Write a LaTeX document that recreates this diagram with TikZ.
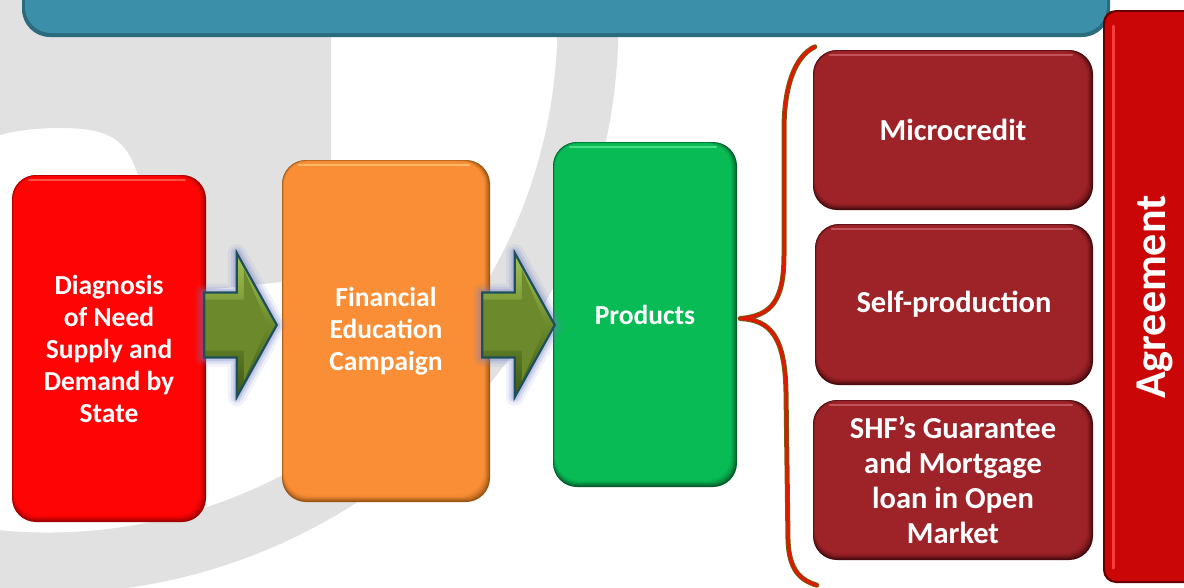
\documentclass[tikz,border=0pt]{standalone}
\usepackage{fontspec}
\setmainfont{Carlito}
\usetikzlibrary{calc}

% palette
\definecolor{bggrey}{HTML}{E1E1E1}
\definecolor{barmain}{HTML}{3B8FA8}
\definecolor{barrim}{HTML}{2A6B7D}
\definecolor{dgmain}{HTML}{FF0404}
\definecolor{dgrim}{HTML}{9E0000}
\definecolor{dghi}{HTML}{FF6A5A}
\definecolor{femain}{HTML}{F98E36}
\definecolor{ferim}{HTML}{9C5414}
\definecolor{fehi}{HTML}{FFC878}
\definecolor{prmain}{HTML}{08BB55}
\definecolor{prrim}{HTML}{005C28}
\definecolor{prhi}{HTML}{5EE89A}
\definecolor{mrmain}{HTML}{9D2328}
\definecolor{mrrim}{HTML}{480A0E}
\definecolor{mrhi}{HTML}{D0646C}
\definecolor{agmain}{HTML}{CB0606}
\definecolor{agrim}{HTML}{640000}
\definecolor{aghi}{HTML}{FF3C3C}
\definecolor{arrtop}{HTML}{A6C255}
\definecolor{arrmid}{HTML}{6C8A2C}
\definecolor{arrbot}{HTML}{3E5816}
\definecolor{arrline}{HTML}{1D4F5C}
\definecolor{arrglow}{HTML}{6F7FC8}
\definecolor{bracered}{HTML}{E01800}
\definecolor{braceedge}{HTML}{7A5A10}

% rounded box with a soft bevel and a named text node on top
\newcommand\bevelbox[8]{%
  \fill[#6rim, rounded corners=24pt] (#2,#3) rectangle (#4,#5);
  \foreach \p [count=\k] in {30,55,75,90,100}{%
    \fill[#6main!\p!#6rim, rounded corners=24pt]
      ({#2+0.4*\k},{#3+0.3*\k}) rectangle ({#4-1.2*\k},{#5-1.3*\k});}
  \draw[#6hi, line width=2.2pt, line cap=round, opacity=0.75]
    ({#2+17},{#3+5}) -- ({#4-21},{#3+5});
  \node[#8, minimum width={#4-#2}, minimum height={#5-#3}]
    (#1) at ({(#2+#4)/2},{(#3+#5)/2}) {#7};}

% block arrow outline from a start point to a tip, and its inner face
\newcommand\arrowshape[2]{($(#1)+(0,-32.5)$) -- ($(#2)+(-40,-32.5)$)
  -- ($(#2)+(-40,-72)$) -- (#2) -- ($(#2)+(-40,72)$)
  -- ($(#2)+(-40,32.5)$) -- ($(#1)+(0,32.5)$) -- cycle}
\newcommand\arrowface[2]{($(#1)+(1,-25.5)$) -- ($(#2)+(-33,-25.5)$)
  -- ($(#2)+(-33,-56)$) -- ($(#2)+(-9,0)$) -- ($(#2)+(-33,56)$)
  -- ($(#2)+(-33,25.5)$) -- ($(#1)+(1,25.5)$) -- cycle}

\newcommand\blockarrow[2]{%
  \draw[arrglow, line width=18pt, opacity=0.10, line join=round] \arrowshape{#1}{#2};
  \draw[arrglow, line width=12pt, opacity=0.16, line join=round] \arrowshape{#1}{#2};
  \draw[arrglow, line width=7pt, opacity=0.25, line join=round] \arrowshape{#1}{#2};
  \fill[top color=arrtop, bottom color=arrbot, middle color=arrmid] \arrowshape{#1}{#2};
  \fill[arrmid] \arrowface{#1}{#2};
  \draw[arrline, line width=2.2pt, line join=miter] \arrowshape{#1}{#2};}

\begin{document}
\begin{tikzpicture}[x=1pt, y=-1pt,
  lefttext/.style={text=white, font=\bfseries\fontsize{27.5}{32}\selectfont,
                   align=center, inner sep=0pt},
  righttext/.style={text=white, font=\bfseries\fontsize{30.5}{35}\selectfont,
                    align=center, inner sep=0pt},
  bracepath/.style={draw=braceedge, line width=5pt, line join=round, line cap=round,
                    postaction={draw=bracered, line width=3pt, line join=round, line cap=round}}]
\useasboundingbox (0,0) rectangle (1184,587);
\fill[white] (0,0) rectangle (1184,587);

% grey watermark shapes
\fill[bggrey] (0,0) -- (331,0) -- (331,230)
  .. controls (331,265) and (312,280) .. (282,282) -- (205,290)
  .. controls (170,290) and (150,200) .. (132,160)
  .. controls (120,135) and (100,128) .. (60,128)
  .. controls (30,128) and (10,132) .. (0,135) -- cycle;
\fill[bggrey] plot[domain=-10:125, samples=90] ({47.5+571*cos(\x)},{22.6+571*sin(\x)})
  -- plot[domain=125:-10, samples=90] ({47.5+510*cos(\x)},{22.6+510*sin(\x)}) -- cycle;

% title bar
\fill[barrim, rounded corners=28pt] (22,-40) rectangle (1110,37);
\fill[barmain, rounded corners=26pt] (25,-40) rectangle (1107,33);

% agreement bar
\fill[agrim, rounded corners=13pt] (1103,10) rectangle (1200,583);
\fill[agmain, rounded corners=12pt] (1105,12) rectangle (1200,581);
\draw[aghi, line width=3pt, line cap=round] (1113,26) -- (1113,568);
\node[rotate=90, text=white, font=\bfseries\fontsize{44}{50}\selectfont, inner sep=0pt]
  (agr) at (1155,297) {Agreement};

% process boxes
\bevelbox{diag}{12}{175}{206}{522}{dg}{Diagnosis\\of Need\\Supply and\\Demand by\\State}{lefttext}
\bevelbox{fin}{282}{160}{490}{502}{fe}{Financial\\Education\\Campaign}{lefttext}
\bevelbox{prod}{553}{142}{737}{487}{pr}{Products}{lefttext}

% product boxes
\bevelbox{mc}{813}{50}{1093}{210}{mr}{Microcredit}{righttext}
\bevelbox{sp}{815}{224}{1093}{385}{mr}{Self-production}{righttext}
\bevelbox{shf}{813}{400}{1093}{560}{mr}{SHF’s Guarantee\\and Mortgage\\loan in Open\\Market}{righttext}

% arrows between the process boxes
\coordinate (amid) at (0,325);
\coordinate (a1s) at ($(diag.east |- amid)+(-2,0)$);
\coordinate (a1t) at ($(fin.west |- amid)+(-5,0)$);
\coordinate (a2s) at ($(fin.east |- amid)+(-8,0)$);
\coordinate (a2t) at ($(prod.west |- amid)+(2,0)$);
\blockarrow{a1s}{a1t}
\blockarrow{a2s}{a2t}

% brace from the products box to the product list
\coordinate (btip) at ($(prod.east)+(3,4)$);
\coordinate (btop) at ($(mc.north west)+(2,-3)$);
\coordinate (bbot) at ($(shf.south west)+(4,25)$);
\path[bracepath] (btop) .. controls (795,56) and (784,86) .. (784,130)
  -- (784,255) .. controls (784,300) and (772,316) .. (btip)
  .. controls (770,320) and (785,336) .. (786,392)
  -- (788,540) .. controls (789,570) and (800,580) .. (bbot);
\end{tikzpicture}
\end{document}
